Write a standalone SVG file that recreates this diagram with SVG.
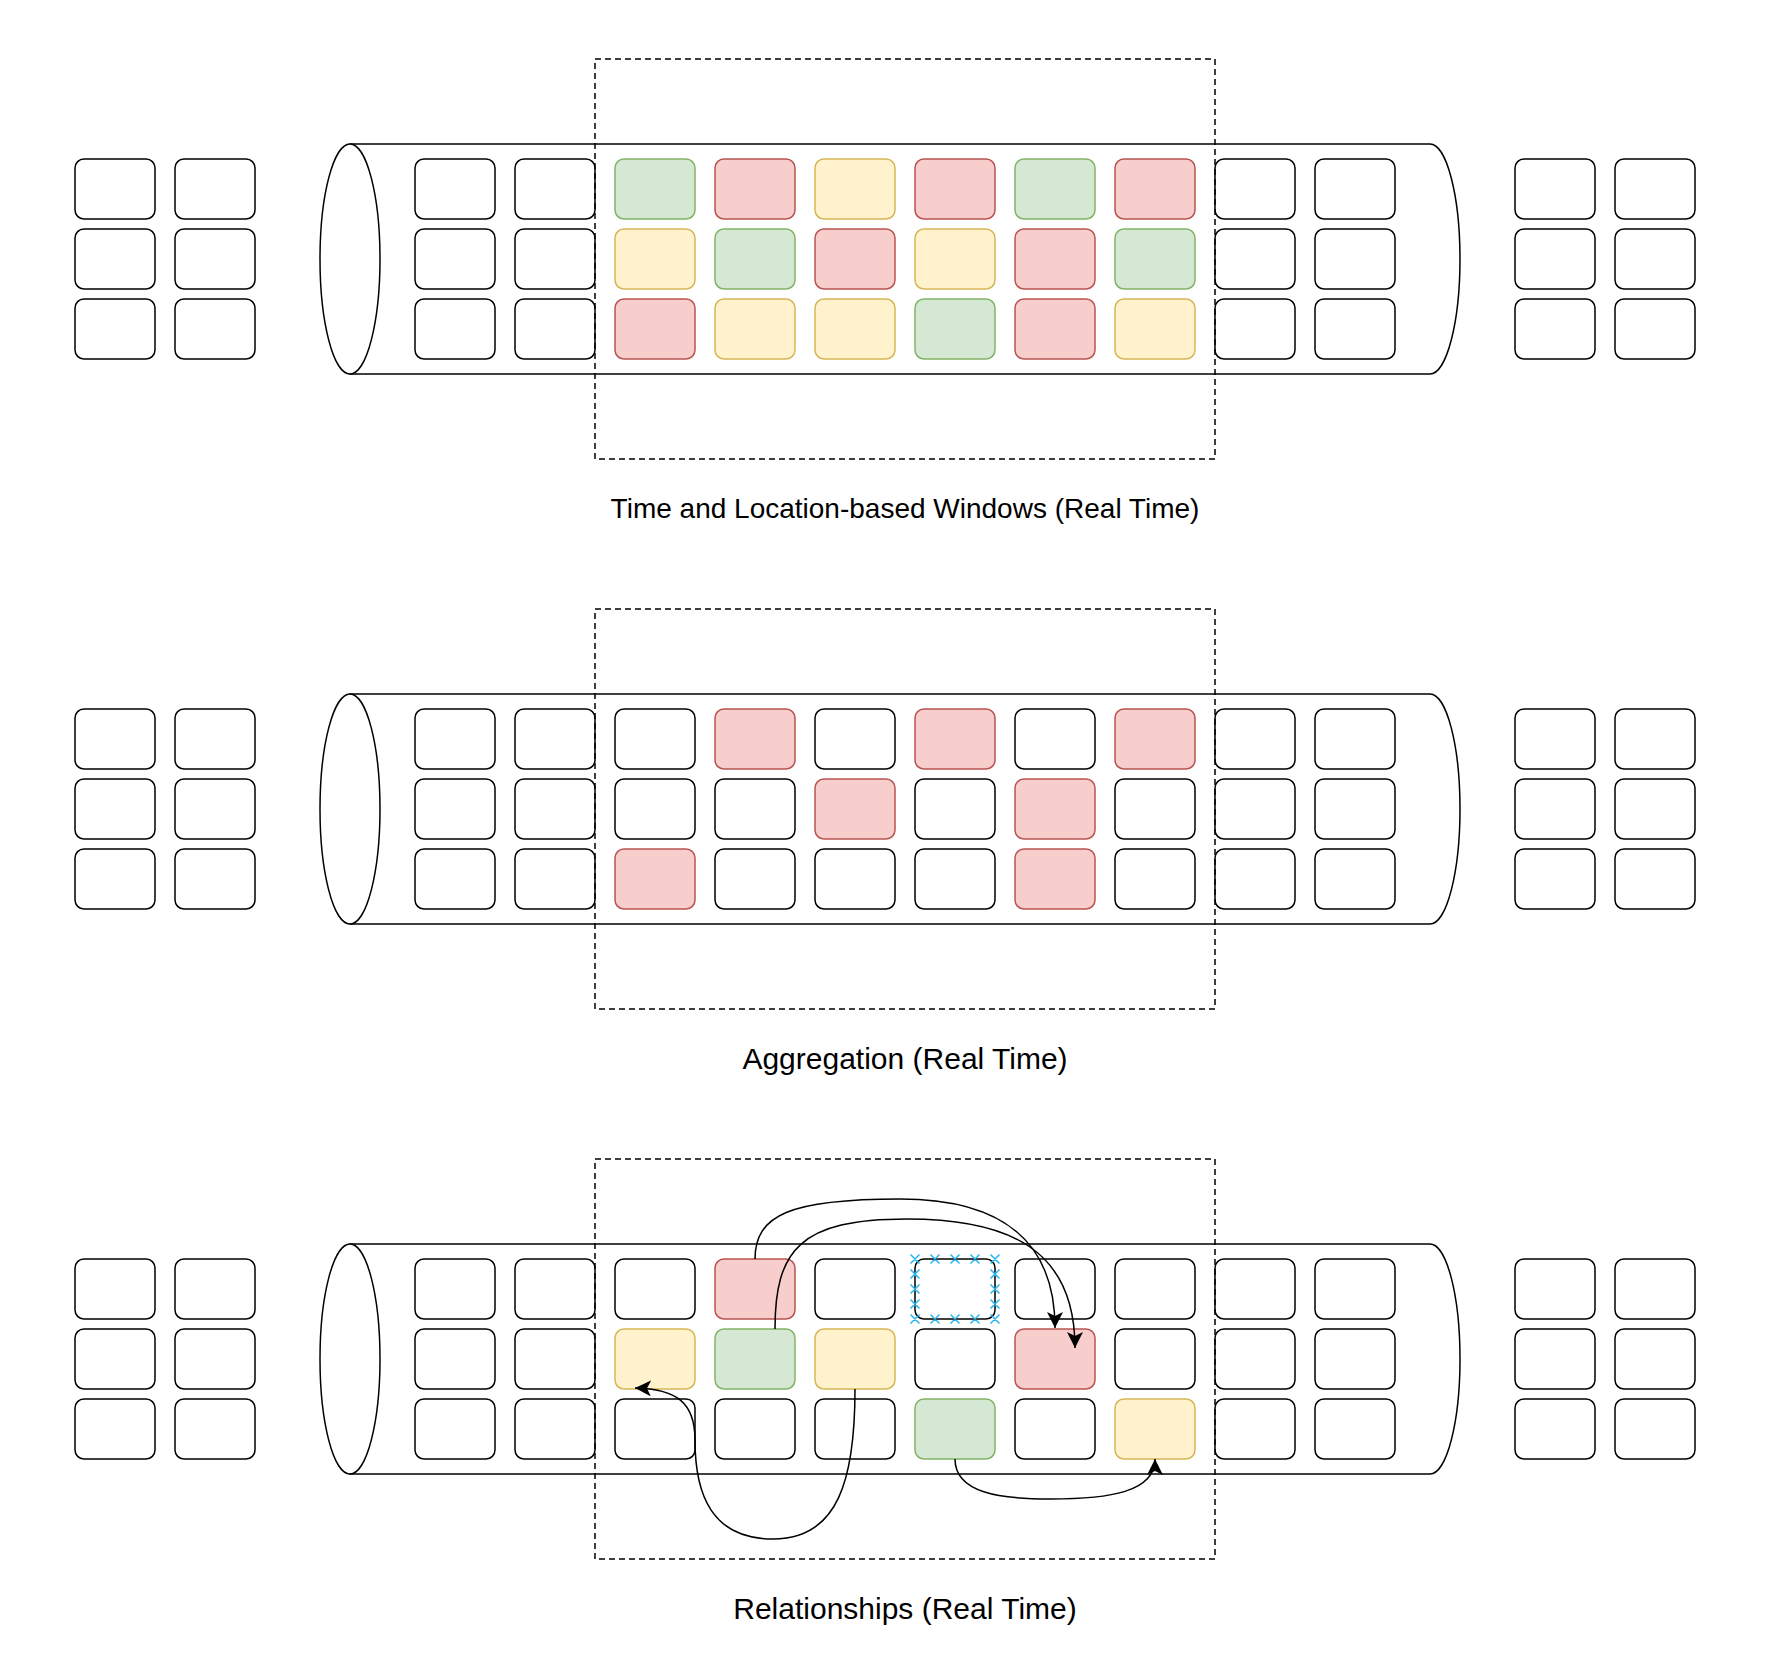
<svg xmlns="http://www.w3.org/2000/svg" width="1778" height="1670" viewBox="0 0 1778 1670">
<style>
rect.n{stroke-width:1.5}
.w{fill:#ffffff;stroke:#000000}
.g{fill:#d5e8d4;stroke:#82b366}
.r{fill:#f8cecc;stroke:#b85450}
.y{fill:#fff2cc;stroke:#d6b656}
.cyl{fill:#ffffff;stroke:#000000;stroke-width:1.5}
.win{fill:none;stroke:#000000;stroke-width:1.5;stroke-dasharray:6 4}
.lbl{font-family:"Liberation Sans",Arial,Helvetica,sans-serif;fill:#000000;text-anchor:middle}
.edge{fill:none;stroke:#000000;stroke-width:1.5;marker-end:url(#arr)}
.pt{fill:none;stroke:#29b6f2;stroke-width:1.5}
</style>
<defs>
<marker id="arr" viewBox="0 0 16 16" refX="16" refY="8" markerWidth="16" markerHeight="16" markerUnits="userSpaceOnUse" orient="auto">
<path d="M0,0 L16,8 L0,16 L4,8 Z" fill="#000000"/>
</marker>
</defs>
<rect width="1778" height="1670" fill="#ffffff"/>

<!-- ================= Section 1 ================= -->
<g id="section1">
<g id="s1-cylinder"><path class="cyl" d="M350,144 H1430 A30,115 0 0 1 1430,374 H350 Z"/><ellipse class="cyl" cx="350" cy="259" rx="30" ry="115"/></g>
<g id="s1-left">
<g id="s1-l-1-1"><rect class="n w" x="75" y="159" width="80" height="60" rx="9"/></g>
<g id="s1-l-1-2"><rect class="n w" x="175" y="159" width="80" height="60" rx="9"/></g>
<g id="s1-l-2-1"><rect class="n w" x="75" y="229" width="80" height="60" rx="9"/></g>
<g id="s1-l-2-2"><rect class="n w" x="175" y="229" width="80" height="60" rx="9"/></g>
<g id="s1-l-3-1"><rect class="n w" x="75" y="299" width="80" height="60" rx="9"/></g>
<g id="s1-l-3-2"><rect class="n w" x="175" y="299" width="80" height="60" rx="9"/></g>
</g>
<g id="s1-stream">
<g id="s1-c-1-1"><rect class="n w" x="415" y="159" width="80" height="60" rx="9"/></g>
<g id="s1-c-1-2"><rect class="n w" x="515" y="159" width="80" height="60" rx="9"/></g>
<g id="s1-c-1-3"><rect class="n g" x="615" y="159" width="80" height="60" rx="9"/></g>
<g id="s1-c-1-4"><rect class="n r" x="715" y="159" width="80" height="60" rx="9"/></g>
<g id="s1-c-1-5"><rect class="n y" x="815" y="159" width="80" height="60" rx="9"/></g>
<g id="s1-c-1-6"><rect class="n r" x="915" y="159" width="80" height="60" rx="9"/></g>
<g id="s1-c-1-7"><rect class="n g" x="1015" y="159" width="80" height="60" rx="9"/></g>
<g id="s1-c-1-8"><rect class="n r" x="1115" y="159" width="80" height="60" rx="9"/></g>
<g id="s1-c-1-9"><rect class="n w" x="1215" y="159" width="80" height="60" rx="9"/></g>
<g id="s1-c-1-10"><rect class="n w" x="1315" y="159" width="80" height="60" rx="9"/></g>
<g id="s1-c-2-1"><rect class="n w" x="415" y="229" width="80" height="60" rx="9"/></g>
<g id="s1-c-2-2"><rect class="n w" x="515" y="229" width="80" height="60" rx="9"/></g>
<g id="s1-c-2-3"><rect class="n y" x="615" y="229" width="80" height="60" rx="9"/></g>
<g id="s1-c-2-4"><rect class="n g" x="715" y="229" width="80" height="60" rx="9"/></g>
<g id="s1-c-2-5"><rect class="n r" x="815" y="229" width="80" height="60" rx="9"/></g>
<g id="s1-c-2-6"><rect class="n y" x="915" y="229" width="80" height="60" rx="9"/></g>
<g id="s1-c-2-7"><rect class="n r" x="1015" y="229" width="80" height="60" rx="9"/></g>
<g id="s1-c-2-8"><rect class="n g" x="1115" y="229" width="80" height="60" rx="9"/></g>
<g id="s1-c-2-9"><rect class="n w" x="1215" y="229" width="80" height="60" rx="9"/></g>
<g id="s1-c-2-10"><rect class="n w" x="1315" y="229" width="80" height="60" rx="9"/></g>
<g id="s1-c-3-1"><rect class="n w" x="415" y="299" width="80" height="60" rx="9"/></g>
<g id="s1-c-3-2"><rect class="n w" x="515" y="299" width="80" height="60" rx="9"/></g>
<g id="s1-c-3-3"><rect class="n r" x="615" y="299" width="80" height="60" rx="9"/></g>
<g id="s1-c-3-4"><rect class="n y" x="715" y="299" width="80" height="60" rx="9"/></g>
<g id="s1-c-3-5"><rect class="n y" x="815" y="299" width="80" height="60" rx="9"/></g>
<g id="s1-c-3-6"><rect class="n g" x="915" y="299" width="80" height="60" rx="9"/></g>
<g id="s1-c-3-7"><rect class="n r" x="1015" y="299" width="80" height="60" rx="9"/></g>
<g id="s1-c-3-8"><rect class="n y" x="1115" y="299" width="80" height="60" rx="9"/></g>
<g id="s1-c-3-9"><rect class="n w" x="1215" y="299" width="80" height="60" rx="9"/></g>
<g id="s1-c-3-10"><rect class="n w" x="1315" y="299" width="80" height="60" rx="9"/></g>
</g>
<g id="s1-right">
<g id="s1-r-1-1"><rect class="n w" x="1515" y="159" width="80" height="60" rx="9"/></g>
<g id="s1-r-1-2"><rect class="n w" x="1615" y="159" width="80" height="60" rx="9"/></g>
<g id="s1-r-2-1"><rect class="n w" x="1515" y="229" width="80" height="60" rx="9"/></g>
<g id="s1-r-2-2"><rect class="n w" x="1615" y="229" width="80" height="60" rx="9"/></g>
<g id="s1-r-3-1"><rect class="n w" x="1515" y="299" width="80" height="60" rx="9"/></g>
<g id="s1-r-3-2"><rect class="n w" x="1615" y="299" width="80" height="60" rx="9"/></g>
</g>
<g id="s1-window"><rect class="win" x="595" y="59" width="620" height="400"/></g>
<g id="s1-label"><text class="lbl" x="905" y="518" font-size="28">Time and Location-based Windows (Real Time)</text></g>
</g>

<!-- ================= Section 2 ================= -->
<g id="section2">
<g id="s2-cylinder"><path class="cyl" d="M350,694 H1430 A30,115 0 0 1 1430,924 H350 Z"/><ellipse class="cyl" cx="350" cy="809" rx="30" ry="115"/></g>
<g id="s2-left">
<g id="s2-l-1-1"><rect class="n w" x="75" y="709" width="80" height="60" rx="9"/></g>
<g id="s2-l-1-2"><rect class="n w" x="175" y="709" width="80" height="60" rx="9"/></g>
<g id="s2-l-2-1"><rect class="n w" x="75" y="779" width="80" height="60" rx="9"/></g>
<g id="s2-l-2-2"><rect class="n w" x="175" y="779" width="80" height="60" rx="9"/></g>
<g id="s2-l-3-1"><rect class="n w" x="75" y="849" width="80" height="60" rx="9"/></g>
<g id="s2-l-3-2"><rect class="n w" x="175" y="849" width="80" height="60" rx="9"/></g>
</g>
<g id="s2-stream">
<g id="s2-c-1-1"><rect class="n w" x="415" y="709" width="80" height="60" rx="9"/></g>
<g id="s2-c-1-2"><rect class="n w" x="515" y="709" width="80" height="60" rx="9"/></g>
<g id="s2-c-1-3"><rect class="n w" x="615" y="709" width="80" height="60" rx="9"/></g>
<g id="s2-c-1-4"><rect class="n r" x="715" y="709" width="80" height="60" rx="9"/></g>
<g id="s2-c-1-5"><rect class="n w" x="815" y="709" width="80" height="60" rx="9"/></g>
<g id="s2-c-1-6"><rect class="n r" x="915" y="709" width="80" height="60" rx="9"/></g>
<g id="s2-c-1-7"><rect class="n w" x="1015" y="709" width="80" height="60" rx="9"/></g>
<g id="s2-c-1-8"><rect class="n r" x="1115" y="709" width="80" height="60" rx="9"/></g>
<g id="s2-c-1-9"><rect class="n w" x="1215" y="709" width="80" height="60" rx="9"/></g>
<g id="s2-c-1-10"><rect class="n w" x="1315" y="709" width="80" height="60" rx="9"/></g>
<g id="s2-c-2-1"><rect class="n w" x="415" y="779" width="80" height="60" rx="9"/></g>
<g id="s2-c-2-2"><rect class="n w" x="515" y="779" width="80" height="60" rx="9"/></g>
<g id="s2-c-2-3"><rect class="n w" x="615" y="779" width="80" height="60" rx="9"/></g>
<g id="s2-c-2-4"><rect class="n w" x="715" y="779" width="80" height="60" rx="9"/></g>
<g id="s2-c-2-5"><rect class="n r" x="815" y="779" width="80" height="60" rx="9"/></g>
<g id="s2-c-2-6"><rect class="n w" x="915" y="779" width="80" height="60" rx="9"/></g>
<g id="s2-c-2-7"><rect class="n r" x="1015" y="779" width="80" height="60" rx="9"/></g>
<g id="s2-c-2-8"><rect class="n w" x="1115" y="779" width="80" height="60" rx="9"/></g>
<g id="s2-c-2-9"><rect class="n w" x="1215" y="779" width="80" height="60" rx="9"/></g>
<g id="s2-c-2-10"><rect class="n w" x="1315" y="779" width="80" height="60" rx="9"/></g>
<g id="s2-c-3-1"><rect class="n w" x="415" y="849" width="80" height="60" rx="9"/></g>
<g id="s2-c-3-2"><rect class="n w" x="515" y="849" width="80" height="60" rx="9"/></g>
<g id="s2-c-3-3"><rect class="n r" x="615" y="849" width="80" height="60" rx="9"/></g>
<g id="s2-c-3-4"><rect class="n w" x="715" y="849" width="80" height="60" rx="9"/></g>
<g id="s2-c-3-5"><rect class="n w" x="815" y="849" width="80" height="60" rx="9"/></g>
<g id="s2-c-3-6"><rect class="n w" x="915" y="849" width="80" height="60" rx="9"/></g>
<g id="s2-c-3-7"><rect class="n r" x="1015" y="849" width="80" height="60" rx="9"/></g>
<g id="s2-c-3-8"><rect class="n w" x="1115" y="849" width="80" height="60" rx="9"/></g>
<g id="s2-c-3-9"><rect class="n w" x="1215" y="849" width="80" height="60" rx="9"/></g>
<g id="s2-c-3-10"><rect class="n w" x="1315" y="849" width="80" height="60" rx="9"/></g>
</g>
<g id="s2-right">
<g id="s2-r-1-1"><rect class="n w" x="1515" y="709" width="80" height="60" rx="9"/></g>
<g id="s2-r-1-2"><rect class="n w" x="1615" y="709" width="80" height="60" rx="9"/></g>
<g id="s2-r-2-1"><rect class="n w" x="1515" y="779" width="80" height="60" rx="9"/></g>
<g id="s2-r-2-2"><rect class="n w" x="1615" y="779" width="80" height="60" rx="9"/></g>
<g id="s2-r-3-1"><rect class="n w" x="1515" y="849" width="80" height="60" rx="9"/></g>
<g id="s2-r-3-2"><rect class="n w" x="1615" y="849" width="80" height="60" rx="9"/></g>
</g>
<g id="s2-window"><rect class="win" x="595" y="609" width="620" height="400"/></g>
<g id="s2-label"><text class="lbl" x="905" y="1069" font-size="30">Aggregation (Real Time)</text></g>
</g>

<!-- ================= Section 3 ================= -->
<g id="section3">
<g id="s3-cylinder"><path class="cyl" d="M350,1244 H1430 A30,115 0 0 1 1430,1474 H350 Z"/><ellipse class="cyl" cx="350" cy="1359" rx="30" ry="115"/></g>
<g id="s3-left">
<g id="s3-l-1-1"><rect class="n w" x="75" y="1259" width="80" height="60" rx="9"/></g>
<g id="s3-l-1-2"><rect class="n w" x="175" y="1259" width="80" height="60" rx="9"/></g>
<g id="s3-l-2-1"><rect class="n w" x="75" y="1329" width="80" height="60" rx="9"/></g>
<g id="s3-l-2-2"><rect class="n w" x="175" y="1329" width="80" height="60" rx="9"/></g>
<g id="s3-l-3-1"><rect class="n w" x="75" y="1399" width="80" height="60" rx="9"/></g>
<g id="s3-l-3-2"><rect class="n w" x="175" y="1399" width="80" height="60" rx="9"/></g>
</g>
<g id="s3-stream">
<g id="s3-c-1-1"><rect class="n w" x="415" y="1259" width="80" height="60" rx="9"/></g>
<g id="s3-c-1-2"><rect class="n w" x="515" y="1259" width="80" height="60" rx="9"/></g>
<g id="s3-c-1-3"><rect class="n w" x="615" y="1259" width="80" height="60" rx="9"/></g>
<g id="s3-c-1-4"><rect class="n r" x="715" y="1259" width="80" height="60" rx="9"/></g>
<g id="s3-c-1-5"><rect class="n w" x="815" y="1259" width="80" height="60" rx="9"/></g>
<g id="s3-c-1-6"><rect class="n w" x="915" y="1259" width="80" height="60" rx="9"/>
<path class="pt" d="M910.5,1254.5L919.5,1263.5M910.5,1263.5L919.5,1254.5M930.5,1254.5L939.5,1263.5M930.5,1263.5L939.5,1254.5M950.5,1254.5L959.5,1263.5M950.5,1263.5L959.5,1254.5M970.5,1254.5L979.5,1263.5M970.5,1263.5L979.5,1254.5M990.5,1254.5L999.5,1263.5M990.5,1263.5L999.5,1254.5M910.5,1314.5L919.5,1323.5M910.5,1323.5L919.5,1314.5M930.5,1314.5L939.5,1323.5M930.5,1323.5L939.5,1314.5M950.5,1314.5L959.5,1323.5M950.5,1323.5L959.5,1314.5M970.5,1314.5L979.5,1323.5M970.5,1323.5L979.5,1314.5M990.5,1314.5L999.5,1323.5M990.5,1323.5L999.5,1314.5M910.5,1269.5L919.5,1278.5M910.5,1278.5L919.5,1269.5M910.5,1284.5L919.5,1293.5M910.5,1293.5L919.5,1284.5M910.5,1299.5L919.5,1308.5M910.5,1308.5L919.5,1299.5M990.5,1269.5L999.5,1278.5M990.5,1278.5L999.5,1269.5M990.5,1284.5L999.5,1293.5M990.5,1293.5L999.5,1284.5M990.5,1299.5L999.5,1308.5M990.5,1308.5L999.5,1299.5"/></g>
<g id="s3-c-1-7"><rect class="n w" x="1015" y="1259" width="80" height="60" rx="9"/></g>
<g id="s3-c-1-8"><rect class="n w" x="1115" y="1259" width="80" height="60" rx="9"/></g>
<g id="s3-c-1-9"><rect class="n w" x="1215" y="1259" width="80" height="60" rx="9"/></g>
<g id="s3-c-1-10"><rect class="n w" x="1315" y="1259" width="80" height="60" rx="9"/></g>
<g id="s3-c-2-1"><rect class="n w" x="415" y="1329" width="80" height="60" rx="9"/></g>
<g id="s3-c-2-2"><rect class="n w" x="515" y="1329" width="80" height="60" rx="9"/></g>
<g id="s3-c-2-3"><rect class="n y" x="615" y="1329" width="80" height="60" rx="9"/></g>
<g id="s3-c-2-4"><rect class="n g" x="715" y="1329" width="80" height="60" rx="9"/></g>
<g id="s3-c-2-5"><rect class="n y" x="815" y="1329" width="80" height="60" rx="9"/></g>
<g id="s3-c-2-6"><rect class="n w" x="915" y="1329" width="80" height="60" rx="9"/></g>
<g id="s3-c-2-7"><rect class="n r" x="1015" y="1329" width="80" height="60" rx="9"/></g>
<g id="s3-c-2-8"><rect class="n w" x="1115" y="1329" width="80" height="60" rx="9"/></g>
<g id="s3-c-2-9"><rect class="n w" x="1215" y="1329" width="80" height="60" rx="9"/></g>
<g id="s3-c-2-10"><rect class="n w" x="1315" y="1329" width="80" height="60" rx="9"/></g>
<g id="s3-c-3-1"><rect class="n w" x="415" y="1399" width="80" height="60" rx="9"/></g>
<g id="s3-c-3-2"><rect class="n w" x="515" y="1399" width="80" height="60" rx="9"/></g>
<g id="s3-c-3-3"><rect class="n w" x="615" y="1399" width="80" height="60" rx="9"/></g>
<g id="s3-c-3-4"><rect class="n w" x="715" y="1399" width="80" height="60" rx="9"/></g>
<g id="s3-c-3-5"><rect class="n w" x="815" y="1399" width="80" height="60" rx="9"/></g>
<g id="s3-c-3-6"><rect class="n g" x="915" y="1399" width="80" height="60" rx="9"/></g>
<g id="s3-c-3-7"><rect class="n w" x="1015" y="1399" width="80" height="60" rx="9"/></g>
<g id="s3-c-3-8"><rect class="n y" x="1115" y="1399" width="80" height="60" rx="9"/></g>
<g id="s3-c-3-9"><rect class="n w" x="1215" y="1399" width="80" height="60" rx="9"/></g>
<g id="s3-c-3-10"><rect class="n w" x="1315" y="1399" width="80" height="60" rx="9"/></g>
</g>
<g id="s3-right">
<g id="s3-r-1-1"><rect class="n w" x="1515" y="1259" width="80" height="60" rx="9"/></g>
<g id="s3-r-1-2"><rect class="n w" x="1615" y="1259" width="80" height="60" rx="9"/></g>
<g id="s3-r-2-1"><rect class="n w" x="1515" y="1329" width="80" height="60" rx="9"/></g>
<g id="s3-r-2-2"><rect class="n w" x="1615" y="1329" width="80" height="60" rx="9"/></g>
<g id="s3-r-3-1"><rect class="n w" x="1515" y="1399" width="80" height="60" rx="9"/></g>
<g id="s3-r-3-2"><rect class="n w" x="1615" y="1399" width="80" height="60" rx="9"/></g>
</g>
<g id="s3-window"><rect class="win" x="595" y="1159" width="620" height="400"/></g>
<g id="s3-label"><text class="lbl" x="905" y="1619" font-size="30">Relationships (Real Time)</text></g>
</g>

<g id="connectors">
<path id="e1" class="edge" d="M755,1259 C755,1215 790,1199 900,1199 C1000,1199 1055,1240 1055,1328"/>
<path id="e2" class="edge" d="M775,1329 C775,1250 800,1219 907,1219 C1010,1219 1075,1250 1075,1348"/>
<path id="e3" class="edge" d="M855,1389 C855,1480 838,1539 773,1539 C712,1539 695,1495 695,1440 C695,1402 676,1389 635,1388"/>
<path id="e4" class="edge" d="M955,1459 C955,1493 1000,1499 1050,1499 C1110,1499 1155,1492 1155,1459"/>
</g>
</svg>
